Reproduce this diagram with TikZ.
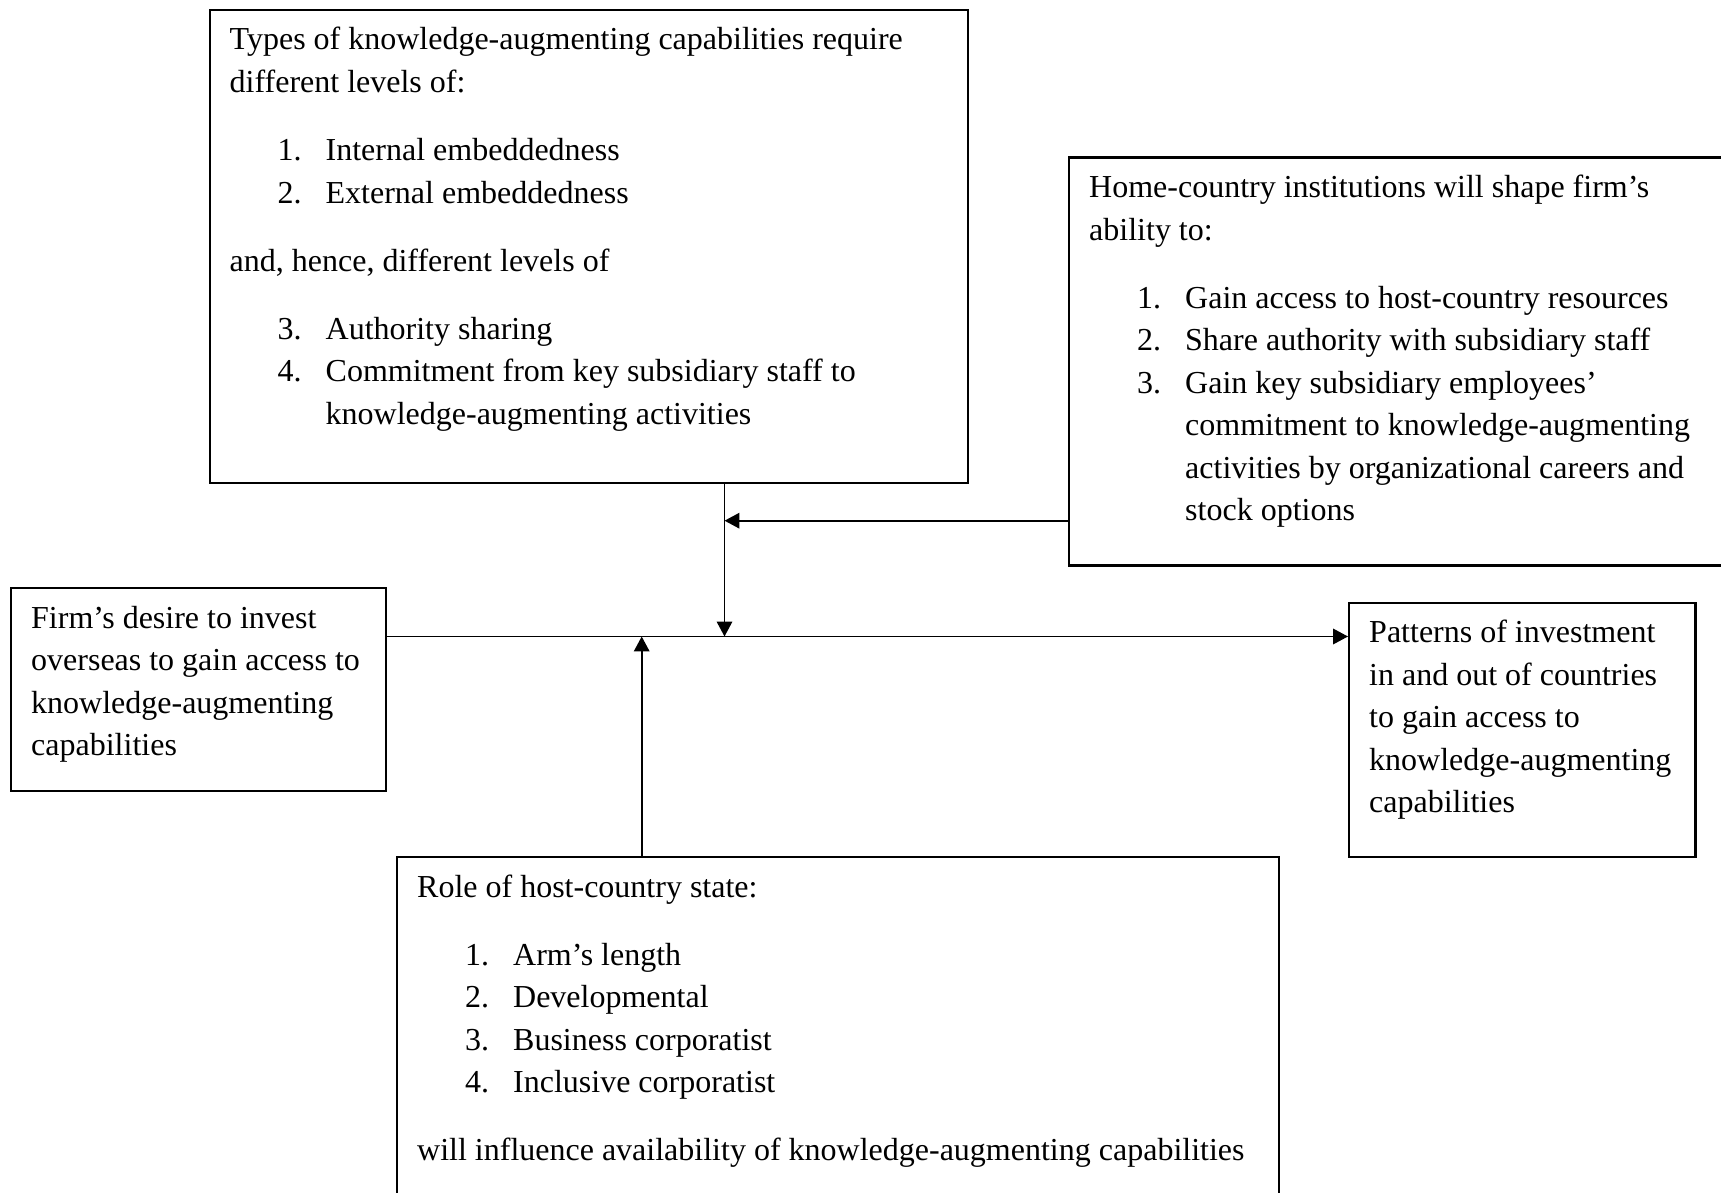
\documentclass[tikz,border=0pt]{standalone}
\usepackage{fontspec}
\setmainfont{Liberation Serif}
\usetikzlibrary{arrows.meta}

% text setting inside the boxes
\newcommand{\boxtext}{\fontsize{12pt}{15.94pt}\selectfont\raggedright
  \leftskip=7.5pt\hyphenpenalty=10000\exhyphenpenalty=10000}
\newcommand{\firstline}{\rule{0pt}{15pt}}
\newcommand{\listgap}{\vspace{9.6pt}}
\newcommand{\numitem}[2]{\par\hangindent=36pt\hangafter=1\noindent
  \hspace*{18pt}\makebox[18pt][l]{#1}#2\par}

\begin{document}
\begin{tikzpicture}[x=0.375pt, y=-0.375pt]
  % Define box and arrow style
  \tikzstyle{mybox} = [draw, line width=0.9pt, rectangle,
  anchor=north west, inner sep=0pt]
  \tikzstyle{myarrow} = [line width=0.7pt, -{Triangle[length=5.6pt, width=5.8pt]}]

  \useasboundingbox (0,0) rectangle (1721,1193);
  \clip (0,0) rectangle (1721,1193);

  \node [mybox] (types) at (208.5,8.8) {%
    \begin{minipage}[t][177.4pt][t]{284.4pt}\boxtext
      \firstline Types of knowledge-augmenting capabilities require\newline
      different levels of:\par\listgap
      \numitem{1.}{Internal embeddedness}
      \numitem{2.}{External embeddedness}
      \listgap
      and, hence, different levels of\par\listgap
      \numitem{3.}{Authority sharing}
      \numitem{4.}{Commitment from key subsidiary staff to\newline
        knowledge-augmenting activities}
    \end{minipage}
  };

  \node [mybox] (home) at (1068,156.5) {%
    \begin{minipage}[t][152.9pt][t]{248.3pt}\boxtext
      \firstline Home-country institutions will shape firm’s\newline
      ability to:\par\listgap
      \numitem{1.}{Gain access to host-country resources}
      \numitem{2.}{Share authority with subsidiary staff}
      \numitem{3.}{Gain key subsidiary employees’\newline
        commitment to knowledge-augmenting\newline
        activities by organizational careers and\newline
        stock options}
    \end{minipage}
  };

  \node [mybox] (firm) at (10,587) {%
    \begin{minipage}[t][76.1pt][t]{140.6pt}\boxtext
      \firstline Firm’s desire to invest\newline
      overseas to gain access to\newline
      knowledge-augmenting\newline
      capabilities
    \end{minipage}
  };

  \node [mybox] (patterns) at (1348,601.5) {%
    \begin{minipage}[t][95.4pt][t]{129.9pt}\boxtext
      \firstline Patterns of investment\newline
      in and out of countries\newline
      to gain access to\newline
      knowledge-augmenting\newline
      capabilities
    \end{minipage}
  };

  \node [mybox] (role) at (396,856) {%
    \begin{minipage}[t][129pt][t]{330.6pt}\boxtext
      \firstline Role of host-country state:\par\listgap
      \numitem{1.}{Arm’s length}
      \numitem{2.}{Developmental}
      \numitem{3.}{Business corporatist}
      \numitem{4.}{Inclusive corporatist}
      \listgap
      will influence availability of knowledge-augmenting capabilities
    \end{minipage}
  };

  % Connectors
  \coordinate (meet) at (724.5,636.5);
  \coordinate (homein) at (724.5,520.7);
  \coordinate (rolein) at (641.7,636.5);

  \draw [myarrow] (firm.east |- meet) -- (patterns.west |- meet);
  \draw [myarrow] (types.south -| meet) -- (meet);
  \draw [myarrow] (home.west |- homein) -- (homein);
  \draw [myarrow] (role.north -| rolein) -- (rolein);
\end{tikzpicture}
\end{document}
